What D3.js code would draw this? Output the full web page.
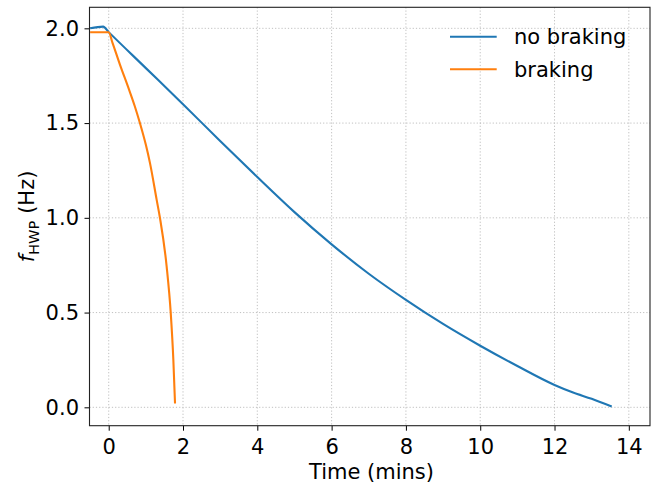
<!DOCTYPE html>
<html>
<head>
<meta charset="utf-8">
<script src="https://cdn.jsdelivr.net/npm/d3@7"></script>
<style>
  html, body { margin: 0; padding: 0; background: #fff; }
  svg { display: block; font-family: "DejaVu Sans", sans-serif; }
</style>
</head>
<body>
<svg id="chart" width="656" height="489"></svg>
<script>
// Spin-down of the half-wave plate rotation frequency
const noBrakeTime = [-0.5, -0.15, 0.0, 1.0, 2.0, 3.0, 4.0, 5.0, 6.0, 7.0, 8.0, 9.0, 10.0, 11.0, 12.0, 12.5, 13.0, 13.54];
const noBrakeFreq = [2.0, 2.009, 1.98, 1.79, 1.60, 1.405, 1.215, 1.03, 0.86, 0.705, 0.567, 0.44, 0.325, 0.218, 0.118, 0.078, 0.045, 0.004];

const brakeTime = [-0.5, 0.0, 0.1, 0.3, 0.55, 0.7, 0.84, 1.0, 1.11, 1.29, 1.38, 1.56, 1.67, 1.74, 1.785];
const brakeFreq = [1.979, 1.979, 1.925, 1.81, 1.675, 1.59, 1.50, 1.385, 1.29, 1.096, 0.999, 0.743, 0.497, 0.25, 0.02];

const seriesNames = ["no braking", "braking"];
const seriesColors = ["#1f77b4", "#ff7f0e"];

const xTicks = [0, 2, 4, 6, 8, 10, 12, 14];
const yTicks = [0.0, 0.5, 1.0, 1.5, 2.0];

const svg = d3.select("#chart");
const plotL = 89.5, plotR = 650, plotT = 7.3, plotB = 425.7;
const fontPx = 21;

const x = d3.scaleLinear().domain([-0.517, 14.57]).range([plotL, plotR]);
const y = d3.scaleLinear().domain([-0.097, 2.111]).range([plotB, plotT]);

// grid
const grid = svg.append("g").attr("stroke", "#b0b0b0").attr("stroke-width", 0.8)
  .attr("stroke-dasharray", "1.2,2").attr("fill", "none");
xTicks.forEach(t => grid.append("line").attr("x1", x(t)).attr("x2", x(t)).attr("y1", plotT).attr("y2", plotB));
yTicks.forEach(t => grid.append("line").attr("y1", y(t)).attr("y2", y(t)).attr("x1", plotL).attr("x2", plotR));

// lines
const line = d3.line().x(d => x(d[0])).y(d => y(d[1])).curve(d3.curveMonotoneX);
const series = [
  d3.zip(noBrakeTime, noBrakeFreq),
  d3.zip(brakeTime, brakeFreq)
];
series.forEach((s, i) => {
  svg.append("path").datum(s).attr("d", line)
    .attr("fill", "none").attr("stroke", seriesColors[i]).attr("stroke-width", 2.1)
    .attr("stroke-linejoin", "round").attr("stroke-linecap", "butt");
});

// axes
const xAxis = d3.axisBottom(x).tickValues(xTicks).tickFormat(d3.format("d")).tickSize(5).tickPadding(8.2);
const yAxis = d3.axisLeft(y).tickValues(yTicks).tickFormat(d3.format(".1f")).tickSize(5).tickPadding(5.5);

const gx = svg.append("g").attr("transform", `translate(0,${plotB})`).call(xAxis);
const gy = svg.append("g").attr("transform", `translate(${plotL},0)`).call(yAxis);
[gx, gy].forEach(g => {
  g.select(".domain").remove();
  g.selectAll(".tick line").attr("stroke", "#000").attr("stroke-width", 1);
  g.selectAll(".tick text").attr("fill", "#000").style("font-size", fontPx + "px")
    .style("font-family", "DejaVu Sans, sans-serif");
});

// frame
svg.append("rect").attr("x", plotL).attr("y", plotT).attr("width", plotR - plotL).attr("height", plotB - plotT)
  .attr("fill", "none").attr("stroke", "#222").attr("stroke-width", 1.1);

// axis labels
svg.append("text").attr("x", 371.5).attr("y", 479.3)
  .attr("text-anchor", "middle").style("font-size", fontPx + "px").text("Time (mins)");

const yl = svg.append("text").attr("transform", `translate(34,${(plotT + plotB) / 2}) rotate(-90)`)
  .attr("text-anchor", "middle").style("font-size", fontPx + "px");
yl.append("tspan").style("font-style", "italic").text("f");
yl.append("tspan").attr("dy", 4.5).style("font-size", "14.7px").text("HWP");
yl.append("tspan").attr("dy", -4.5).text(" (Hz)");

// legend
const legend = svg.append("g");
seriesNames.forEach((name, i) => {
  const ly = 36.7 + i * 32.6;
  legend.append("line").attr("x1", 450).attr("x2", 496.7).attr("y1", ly).attr("y2", ly)
    .attr("stroke", seriesColors[i]).attr("stroke-width", 2.1);
  legend.append("text").attr("x", 514).attr("y", ly + 7.6).style("font-size", fontPx + "px").text(name);
});
</script>
</body>
</html>
